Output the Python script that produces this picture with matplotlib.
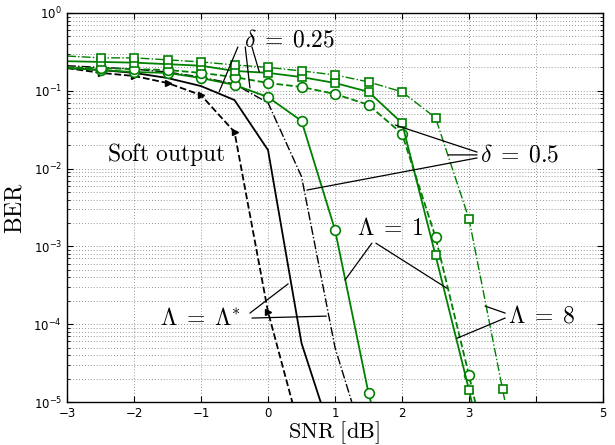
import numpy as np
import matplotlib
matplotlib.use('Agg')
import matplotlib.pyplot as plt
from matplotlib.ticker import LogLocator, NullFormatter, FixedLocator

plt.rcParams['mathtext.fontset'] = 'cm'

GREEN = '#008000'

# SNR grids
snr_soft = [-3, -2.5, -2, -1.5, -1, -0.5, 0, 0.5]
snr_b1 = [-3, -2.5, -2, -1.5, -1, -0.5, 0, 0.5, 1]
snr_b2 = [-3, -2.5, -2, -1.5, -1, -0.5, 0, 0.5, 1, 1.5]
snr_l1a = [-3, -2.5, -2, -1.5, -1, -0.5, 0, 0.5, 1, 1.5, 2]
snr_l1b = [-3, -2.5, -2, -1.5, -1, -0.5, 0, 0.5, 1, 1.5, 2, 2.5, 3, 3.5]
snr_l8a = [-3, -2.5, -2, -1.5, -1, -0.5, 0, 0.5, 1, 1.5, 2, 2.5, 3, 3.5]
snr_l8b = [-3, -2.5, -2, -1.5, -1, -0.5, 0, 0.5, 1, 1.5, 2, 2.5, 3, 3.5, 4]

# BER values
ber_soft = [0.196, 0.17, 0.155, 0.126, 0.088, 0.0295, 1.44e-4, 3.6e-6]
ber_star_025 = [0.196, 0.185, 0.17, 0.146, 0.115, 0.076, 0.0173, 5.7e-5, 2.7e-6]
ber_star_05 = [0.21, 0.20, 0.19, 0.174, 0.15, 0.122, 0.07, 7.9e-3, 5e-5, 2e-6]
ber_l1_025 = [0.196, 0.185, 0.174, 0.17, 0.146, 0.119, 0.083, 0.041, 1.63e-3, 1.3e-5, 3e-7]
ber_l1_05 = [0.20, 0.196, 0.19, 0.185, 0.17, 0.15, 0.126, 0.112, 0.091, 0.066,
             0.028, 1.32e-3, 2.2e-5, 3e-7]
ber_l8_025 = [0.24, 0.235, 0.23, 0.22, 0.21, 0.18, 0.17, 0.15, 0.126, 0.097,
              0.0385, 7.7e-4, 1.43e-5, 1.6e-7]
ber_l8_05 = [0.28, 0.265, 0.265, 0.25, 0.235, 0.215, 0.2, 0.18, 0.16, 0.13,
             0.097, 0.045, 2.25e-3, 1.47e-5, 1e-7]

xticks = [-3, -2, -1, 0, 1, 2, 3, 4, 5]
xticklabels = ['\u22123', '\u22122', '\u22121', '0', '1', '2', '3', '', '5']

# labels: (text, x, y, ha)
labels = [
    (r'$\delta\;=\;0.25$', 0.33, 0.45, 'center'),
    (r'$\delta\;=\;0.5$', 3.16, 0.015, 'left'),
    (r'$\mathrm{Soft\ output}$', -2.40, 0.015, 'left'),
    (r'$\Lambda\;=\;1$', 1.33, 1.72e-3, 'left'),
    (r'$\Lambda\;=\;8$', 3.58, 1.31e-4, 'left'),
    (r'$\Lambda\;=\;\Lambda^{*}$', -1.61, 1.2e-4, 'left'),
]

# pointer lines: (start, end)
pointers = [
    ((-0.45, 0.366), (-0.73, 0.097)),
    ((-0.34, 0.366), (-0.27, 0.109)),
    ((-0.24, 0.366), (-0.13, 0.174)),
    ((3.12, 0.0163), (1.90, 0.0363)),
    ((3.12, 0.0150), (2.69, 0.0150)),
    ((3.12, 0.0137), (0.58, 0.0053)),
    ((1.55, 1.1e-3), (1.15, 3.7e-4)),
    ((1.61, 1.1e-3), (2.67, 2.9e-4)),
    ((3.54, 1.2e-4), (2.82, 6.6e-5)),
    ((3.54, 1.39e-4), (3.24, 1.71e-4)),
    ((-0.27, 1.39e-4), (0.30, 3.3e-4)),
    ((-0.24, 1.2e-4), (0.87, 1.27e-4)),
]

fig = plt.figure(figsize=(6.15, 4.45), dpi=100)
ax = fig.add_axes([0.109, 0.0966, 0.8715, 0.8742])

ax.plot(snr_soft, ber_soft, '--', color='k', lw=1.3, marker='>', ms=5,
        markevery=list(range(1, len(snr_soft))), mfc='k', mec='k')
ax.plot(snr_b1, ber_star_025, '-', color='k', lw=1.3)
ax.plot(snr_b2, ber_star_05, '-.', color='k', lw=1.0)

ax.plot(snr_l1a, ber_l1_025, '-', color=GREEN, lw=1.3, marker='o', ms=7,
        mfc='white', mec=GREEN, mew=1.2, markevery=list(range(1, len(snr_l1a))))
ax.plot(snr_l1b, ber_l1_05, '--', color=GREEN, lw=1.3, marker='o', ms=7,
        mfc='white', mec=GREEN, mew=1.2, markevery=list(range(1, len(snr_l1b))))
ax.plot(snr_l8a, ber_l8_025, '-', color=GREEN, lw=1.3, marker='s', ms=6,
        mfc='white', mec=GREEN, mew=1.2, markevery=list(range(1, len(snr_l8a))))
ax.plot(snr_l8b, ber_l8_05, '-.', color=GREEN, lw=1.0, marker='s', ms=6,
        mfc='white', mec=GREEN, mew=1.2, markevery=list(range(1, len(snr_l8b))))

ax.set_yscale('log')
ax.set_xlim(-3, 5)
ax.set_ylim(1e-5, 1)
ax.xaxis.set_major_locator(FixedLocator(xticks))
ax.set_xticklabels(xticklabels)
ax.yaxis.set_major_locator(LogLocator(base=10, numticks=10))
ax.yaxis.set_minor_locator(LogLocator(base=10, subs=np.arange(2, 10), numticks=20))
ax.yaxis.set_minor_formatter(NullFormatter())

ax.grid(True, which='major', ls=(0, (1, 2.5)), color='0.45', lw=0.6)
ax.grid(True, which='minor', axis='y', ls=(0, (1, 2.5)), color='0.45', lw=0.6)
ax.tick_params(which='both', direction='in', top=True, right=True, labelsize=8.5)
ax.tick_params(which='major', length=4)
ax.tick_params(which='minor', length=2)
for s in ax.spines.values():
    s.set_linewidth(1.0)

for txt, x, y, ha in labels:
    ax.text(x, y, txt, ha=ha, va='center', fontsize=17)

for (x0, y0), (x1, y1) in pointers:
    ax.annotate('', xy=(x1, y1), xytext=(x0, y0),
                arrowprops=dict(arrowstyle='-', lw=0.9, color='k',
                                shrinkA=0, shrinkB=0))

ax.set_xlabel(r'$\mathrm{SNR\ [dB]}$', fontsize=16)
ax.xaxis.set_label_coords(0.498, -0.044)
ax.set_ylabel(r'$\mathrm{BER}$', fontsize=17)
ax.yaxis.set_label_coords(-0.075, 0.5)

fig.savefig('out.png', dpi=100)
